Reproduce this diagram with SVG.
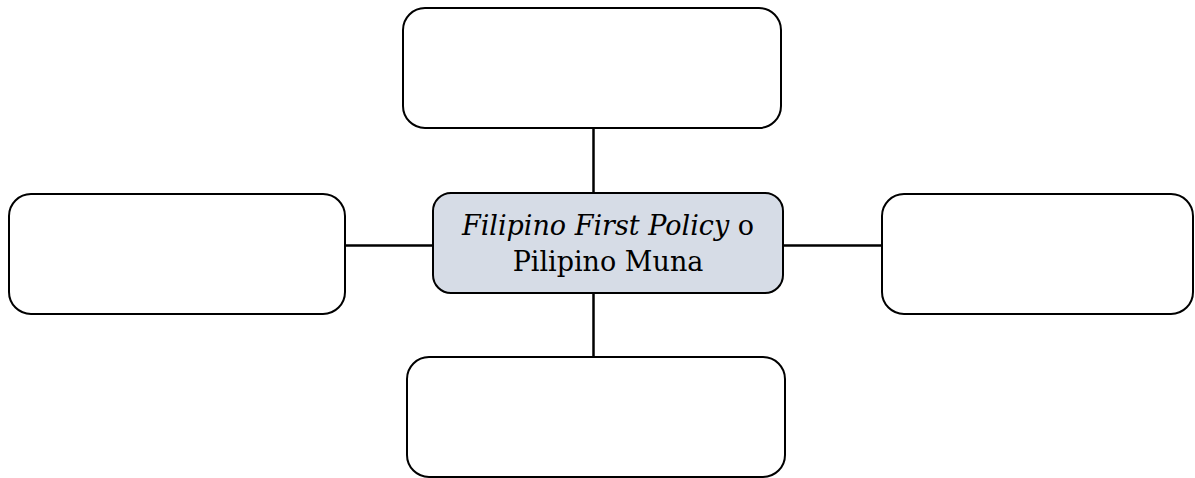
<svg xmlns="http://www.w3.org/2000/svg" width="1195" height="478" viewBox="0 0 1195 478">
<style>
.box{fill:#ffffff;stroke:#000000;stroke-width:2}
.center{fill:#d6dce6;stroke:#000000;stroke-width:2}
.conn{stroke:#000000;stroke-width:2.5;fill:none}
.lbl{font-family:"DejaVu Serif",serif;font-size:27px;fill:#000000;text-anchor:middle}
</style>
<rect width="1195" height="478" fill="#ffffff"/>
<g id="connectors">
<line class="conn" x1="593.5" y1="128" x2="593.5" y2="193"/>
<line class="conn" x1="593.5" y1="293" x2="593.5" y2="357"/>
<line class="conn" x1="345" y1="245.5" x2="433" y2="245.5"/>
<line class="conn" x1="783" y1="245.5" x2="882" y2="245.5"/>
</g>
<g id="node-top"><rect class="box" x="403" y="8" width="378" height="120" rx="22"/></g>
<g id="node-left"><rect class="box" x="9" y="194" width="336" height="120" rx="22"/></g>
<g id="node-right"><rect class="box" x="882" y="194" width="311" height="120" rx="22"/></g>
<g id="node-bottom"><rect class="box" x="407" y="357" width="378" height="120" rx="22"/></g>
<g id="node-center">
<rect class="center" x="433" y="193" width="350" height="100" rx="18"/>
<text class="lbl" x="608" y="235"><tspan font-style="italic">Filipino First Policy</tspan> o</text>
<text class="lbl" x="608" y="271">Pilipino Muna</text>
</g>
</svg>
